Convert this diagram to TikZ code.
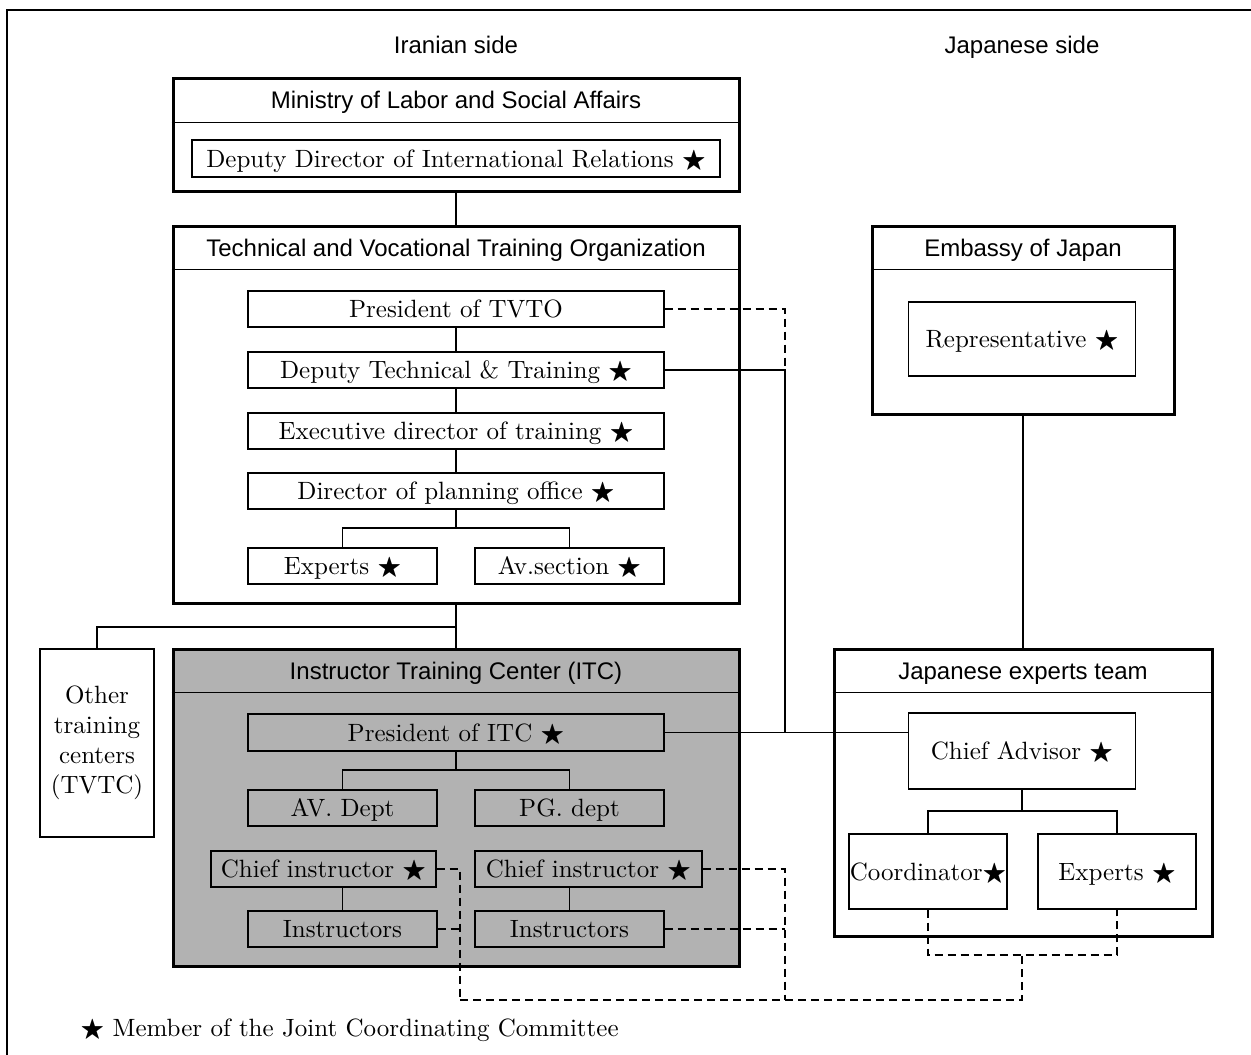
\documentclass[tikz,border=0pt]{standalone}
\usepackage{amssymb}
\usepackage{fontspec}
\setmainfont{lmroman10-regular.otf}[BoldFont=lmroman10-bold.otf]
\setsansfont{Liberation Sans}
\usepackage{tikz}
\pgfdeclarelayer{backlayer}
\pgfdeclarelayer{edgelayer}
\pgfdeclarelayer{nodelayer}
\pgfsetlayers{backlayer,edgelayer,nodelayer,main}
\newcommand{\jccstar}{$\bigstar$}
\tikzstyle{group_box}=[rectangle,draw=black,line width=3pt,inner sep=0pt]
\tikzstyle{unit_box}=[rectangle,draw=black,line width=1.3pt,inner sep=0pt,text height=22pt,text depth=5pt,font=\fontsize{25}{30}\selectfont]
\tikzstyle{group_title}=[inner sep=0pt,anchor=base,font=\sffamily\fontsize{24}{28}\selectfont]
\tikzstyle{link}=[draw=black,line width=1.3pt]
\tikzstyle{liaison}=[draw=black,line width=1.3pt,dash pattern=on 8pt off 5pt]

\begin{document}
\begin{tikzpicture}[x=1pt,y=-1pt]
	\useasboundingbox (0,0) rectangle (1251,1055);
	\draw [line width=2pt] (1251,10) -- (7,10) -- (7,1055);
	\begin{pgfonlayer}{backlayer}
		\node [style={group_box}, minimum width=566pt, minimum height=113pt] (0) at (456,134.5) {};
		\node [style={group_box}, minimum width=566pt, minimum height=377pt] (2) at (456,414.5) {};
		\node [style={group_box}, fill=black!30, minimum width=566pt, minimum height=317pt] (10) at (456,807.5) {};
		\node [style={group_box}, minimum width=302pt, minimum height=188pt] (18) at (1023,320) {};
		\node [style={group_box}, minimum width=378pt, minimum height=287pt] (20) at (1023,792.5) {};
	\end{pgfonlayer}
	\begin{pgfonlayer}{nodelayer}
		\node [style={group_title}] (h0) at (456,53.5) {Iranian side};
		\node [style={group_title}] (h1) at (1022,53.5) {Japanese side};
		\node [style={group_title}] (t0) at ([yshift=-32pt]0.north) {Ministry of Labor and Social Affairs};
		\node [style={group_title}] (t2) at ([yshift=-31.5pt]2.north) {Technical and Vocational Training Organization};
		\node [style={group_title}] (t10) at ([yshift=-31.5pt]10.north) {Instructor Training Center (ITC)};
		\node [style={group_title}] (t18) at ([yshift=-31.5pt]18.north) {Embassy of Japan};
		\node [style={group_title}] (t20) at ([yshift=-31.5pt]20.north) {Japanese experts team};
		\node [style={unit_box}, minimum width=528pt, minimum height=37pt] (1) at (456,158.5) {Deputy Director of International Relations \jccstar};
		\node [style={unit_box}, minimum width=416pt, minimum height=36pt] (3) at (456,309) {President of TVTO};
		\node [style={unit_box}, minimum width=416pt, minimum height=36pt] (4) at (456,370) {Deputy Technical \& Training \jccstar};
		\node [style={unit_box}, minimum width=416pt, minimum height=36pt] (5) at (456,431) {Executive director of training \jccstar};
		\node [style={unit_box}, minimum width=416pt, minimum height=36pt] (6) at (456,491) {Director of planning office \jccstar};
		\node [style={unit_box}, minimum width=189pt, minimum height=36pt] (7) at (342.5,566) {Experts \jccstar};
		\node [style={unit_box}, minimum width=189pt, minimum height=36pt] (8) at (569.5,566) {Av.section \jccstar};
		\node [style={unit_box}, fill=white, align=center, text height=, text depth=, minimum width=114pt, minimum height=188pt] (9) at (97,743) {Other\\training\\centers\\(TVTC)};
		\node [style={unit_box}, minimum width=416pt, minimum height=37pt] (11) at (456,732.5) {President of ITC \jccstar};
		\node [style={unit_box}, minimum width=189pt, minimum height=36pt] (12) at (342.5,808) {AV. Dept};
		\node [style={unit_box}, minimum width=189pt, minimum height=36pt] (13) at (569.5,808) {PG. dept};
		\node [style={unit_box}, minimum width=225pt, minimum height=36pt] (14) at (323.5,869) {Chief instructor \jccstar};
		\node [style={unit_box}, minimum width=227pt, minimum height=36pt] (15) at (588.5,869) {Chief instructor \jccstar};
		\node [style={unit_box}, minimum width=189pt, minimum height=36pt] (16) at (342.5,929) {Instructors};
		\node [style={unit_box}, minimum width=189pt, minimum height=36pt] (17) at (569.5,929) {Instructors};
		\node [style={unit_box}, minimum width=227pt, minimum height=74pt] (19) at (1022,339) {Representative \jccstar};
		\node [style={unit_box}, minimum width=227pt, minimum height=76pt] (21) at (1022,751) {Chief Advisor \jccstar};
		\node [style={unit_box}, minimum width=158pt, minimum height=75pt] (22) at (928,871.5) {Coordinator\jccstar};
		\node [style={unit_box}, minimum width=158pt, minimum height=75pt] (23) at (1117,871.5) {Experts \jccstar};
		\node [style={unit_box}, draw=none, anchor=west] (n0) at (80,1028) {\jccstar{} Member of the Joint Coordinating Committee};
	\end{pgfonlayer}
	\begin{pgfonlayer}{edgelayer}
		\coordinate (c0) at (456,528);
		\coordinate (c1) at (456,627);
		\coordinate (c2) at (456,770);
		\coordinate (c3) at (1022,811);
		\coordinate (c4) at (785,370);
		\coordinate (c5) at (785,733);
		\coordinate (c6) at (460,1000);
		\coordinate (c7) at (1022,1000);
		\coordinate (c8) at (1022,955);
		\coordinate (c9) at (785,1000);
		\draw [style=link] ([yshift=-46pt]0.north west) to ([yshift=-46pt]0.north east);
		\draw [style=link] ([yshift=-45pt]2.north west) to ([yshift=-45pt]2.north east);
		\draw [style=link] ([yshift=-45pt]10.north west) to ([yshift=-45pt]10.north east);
		\draw [style=link] ([yshift=-45pt]18.north west) to ([yshift=-45pt]18.north east);
		\draw [style=link] ([yshift=-45pt]20.north west) to ([yshift=-45pt]20.north east);
		\draw [style=link] (0.south) to (2.north);
		\draw [style=link] (3) to (4);
		\draw [style=link] (4) to (5);
		\draw [style=link] (5) to (6);
		\draw [style=link] (6.south) to (c0);
		\draw [style=link] (c0) -| (7);
		\draw [style=link] (c0) -| (8);
		\draw [style=link] (2.south) to (10.north);
		\draw [style=link] (c1) -| (9);
		\draw [style=link] (11.south) to (c2);
		\draw [style=link] (c2) -| (12);
		\draw [style=link] (c2) -| (13);
		\draw [style=link] (16.north) to (16.north |- 14.south);
		\draw [style=link] (17.north) to (17.north |- 15.south);
		\draw [style=link] (18.south) to (20.north);
		\draw [style=link] (21.south) to (c3);
		\draw [style=link] (c3) -| (22);
		\draw [style=link] (c3) -| (23);
		\draw [style=link] (4.east) to (c4) to (c5);
		\draw [style=link] (11.east) to (11.east -| 21.west);
		\draw [style=liaison] (3.east) -| (c4);
		\draw [style=liaison] (14.east) -| (c6);
		\draw [style=liaison] (16.east) to (16.east -| c6);
		\draw [style=liaison] (c6) to (c7) to (c8);
		\draw [style=liaison] (22.south) |- (c8) -| (23.south);
		\draw [style=liaison] (15.east) -| (c9);
		\draw [style=liaison] (17.east) to (17.east -| c9);
	\end{pgfonlayer}
\end{tikzpicture}
\end{document}
